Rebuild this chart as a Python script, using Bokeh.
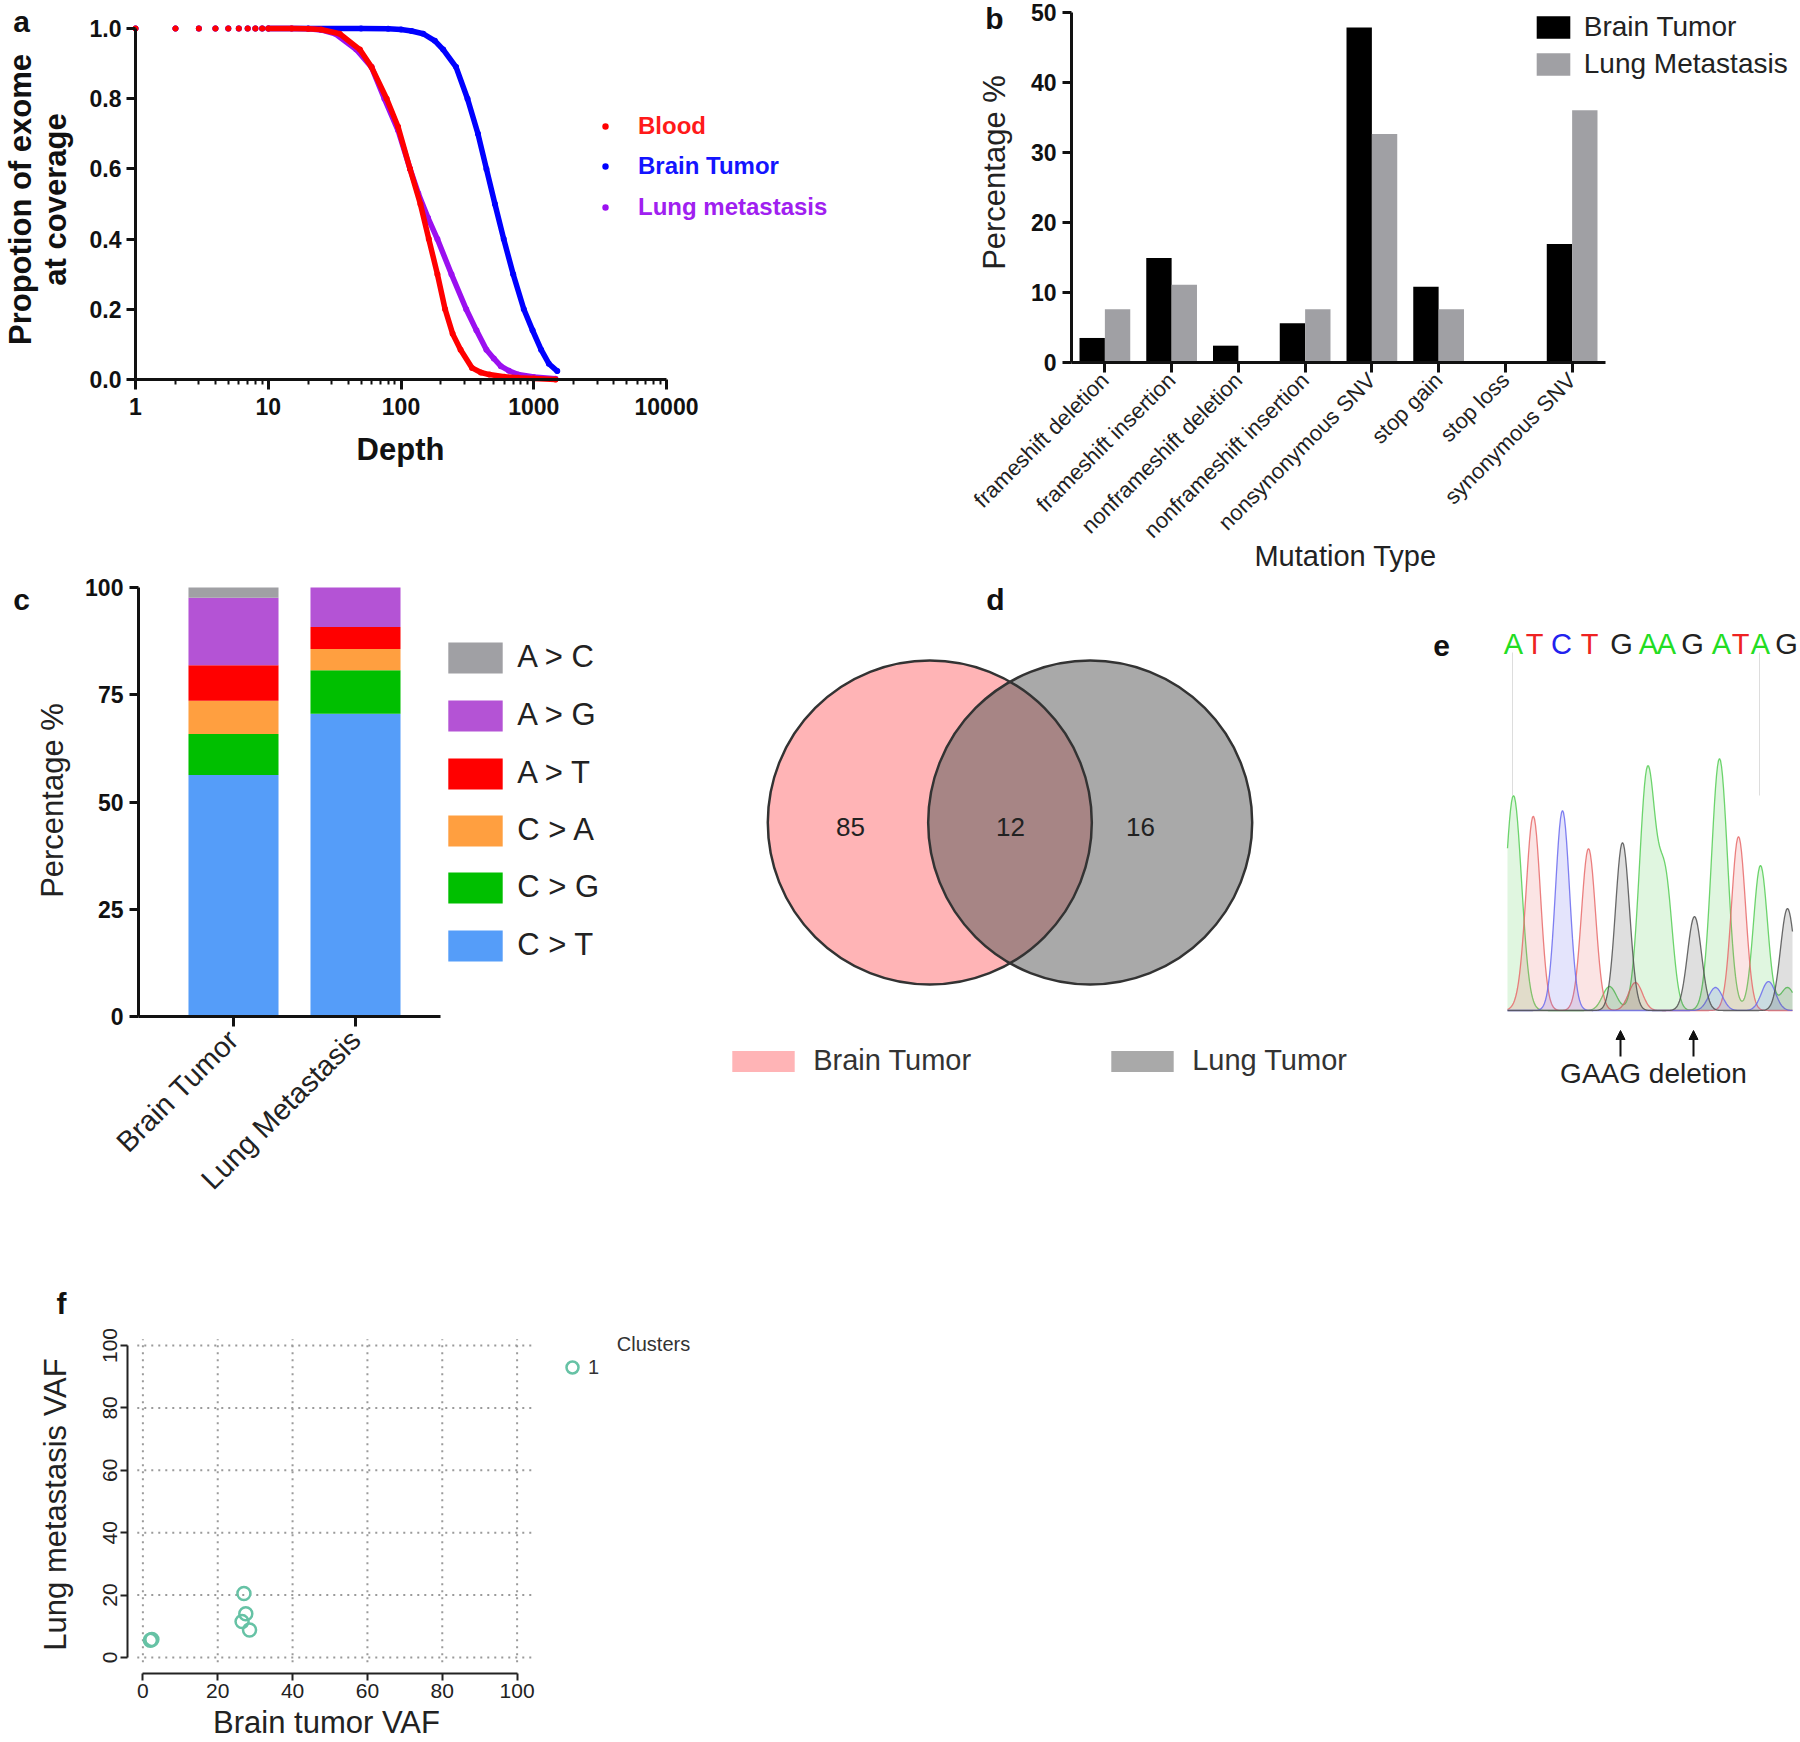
import numpy as np
from bokeh.plotting import figure
from bokeh.layouts import column, row
from bokeh.models import (ColumnDataSource, Label, Legend, LegendItem, FixedTicker,
                          NumeralTickFormatter, Range1d, Arrow, NormalHead)
from bokeh.embed import file_html
from bokeh.resources import INLINE

FONT = "Liberation Sans"
INK = "#111111"

# ---------------- data: panel a (coverage curves) ----------------
blood_depth = [1, 2, 3, 4, 5, 6, 7, 8, 9, 10, 15, 20, 25, 34.5, 49, 60, 78, 95, 117, 140, 162,
               188, 215, 245, 281, 343, 400, 462, 600, 762, 1000, 1458]
blood_prop = [1, 1, 1, 1, 1, 1, 1, 1, 1, 1, 1.0, 0.999, 0.997, 0.985, 0.94, 0.89, 0.80, 0.72,
              0.60, 0.50, 0.40, 0.30, 0.20, 0.13, 0.085, 0.033, 0.02, 0.014, 0.008, 0.005, 0.003, 0.0]
lung_depth = [1, 2, 3, 4, 5, 6, 7, 8, 9, 10, 15, 20, 25, 32, 46, 60, 75, 95, 117, 135, 160,
              188, 240, 310, 370, 440, 500, 565, 650, 762, 1000, 1458]
lung_prop = [1, 1, 1, 1, 1, 1, 1, 1, 1, 1, 1.0, 0.999, 0.996, 0.985, 0.94, 0.89, 0.80, 0.71,
             0.60, 0.53, 0.46, 0.40, 0.30, 0.20, 0.14, 0.085, 0.06, 0.038, 0.025, 0.014, 0.007, 0.002]
brain_depth = [1, 2, 3, 4, 5, 6, 7, 8, 9, 10, 20, 50, 80, 100, 120, 147, 180, 208, 260, 317,
               380, 440, 510, 594, 700, 842, 980, 1136, 1300, 1503]
brain_prop = [1, 1, 1, 1, 1, 1, 1, 1, 1, 1, 1.0, 1.0, 0.999, 0.997, 0.993, 0.985, 0.965, 0.94,
              0.89, 0.80, 0.70, 0.60, 0.50, 0.40, 0.30, 0.20, 0.14, 0.085, 0.045, 0.024]
depth_ticks = [1, 10, 100, 1000, 10000]
prop_ticks = [0, 0.2, 0.4, 0.6, 0.8, 1.0]

# ---------------- data: panel b (mutation types) ----------------
mut_types = ["frameshift deletion", "frameshift insertion", "nonframeshift deletion",
             "nonframeshift insertion", "nonsynonymous SNV", "stop gain", "stop loss",
             "synonymous SNV"]
brain_pct = [3.5, 14.9, 2.4, 5.6, 47.8, 10.8, 0.0, 16.9]
lung_pct = [7.6, 11.1, 0.0, 7.6, 32.6, 7.6, 0.0, 36.0]
pct_ticks_b = [0, 10, 20, 30, 40, 50]

# ---------------- data: panel c (substitution spectrum) ----------------
samples = ["Brain Tumor", "Lung Metastasis"]
subst_labels = ["C > T", "C > G", "C > A", "A > T", "A > G", "A > C"]
ct_pct = [56.3, 70.6]
cg_pct = [9.6, 10.1]
ca_pct = [7.7, 5.0]
at_pct = [8.3, 5.1]
ag_pct = [15.7, 9.2]
ac_pct = [2.4, 0.0]
pct_ticks_c = [0, 25, 50, 75, 100]

# ---------------- data: panel d (Venn) ----------------
venn_sets = ["Brain Tumor", "Lung Tumor"]
only_brain = 85
shared = 12
only_lung = 16

# ---------------- data: panel e (chromatogram) ----------------
seq_bases = list("ATCTGAAGATAG")
seq_pos = [1513, 1534, 1561, 1589, 1621, 1648, 1666, 1692, 1721, 1740, 1760, 1786]
peak_pos = [1513, 1533, 1562, 1588, 1622, 1647, 1665, 1694, 1719, 1738, 1760, 1787,
            1609, 1635, 1715, 1768, 1787, 1523]
peak_height = [215, 190, 200, 162, 168, 240, 125, 94, 252, 174, 145, 102,
               24, 28, 23, 29, 23, 12]
peak_base = ["A", "T", "C", "T", "G", "A", "A", "G", "A", "T", "A", "G",
             "A", "T", "C", "C", "A", "T"]
deletion_pos = [1620, 1693]

# ---------------- data: panel f (VAF scatter) ----------------
brain_vaf = [2.0, 2.4, 27.0, 27.5, 26.5, 28.5]
lung_vaf = [5.5, 5.8, 20.5, 14.0, 11.5, 8.8]
vaf_ticks = [0, 20, 40, 60, 80, 100]


# ---------------- helpers ----------------
class Panel:
    """A figure whose frame is the whole figure; X/Y are page pixels."""

    def __init__(self, X0, Y0, W, H, **kw):
        self.X0, self.Y0, self.W, self.H = X0, Y0, W, H
        p = figure(width=W, height=H, output_backend="svg", toolbar_location=None,
                   min_border_left=0, min_border_right=0, min_border_top=0,
                   min_border_bottom=0, **kw)
        p.outline_line_color = None
        p.background_fill_color = "white"
        p.border_fill_color = "white"
        p.xgrid.visible = False
        p.ygrid.visible = False
        self.p = p

    def sx(self, X):
        return X - self.X0

    def sy(self, Y):
        return self.Y0 + self.H - Y

    def txt(self, text, X, Y, size, bold=False, angle=0, align="center",
            baseline="middle", color=INK):
        self.p.add_layout(Label(x=self.sx(X), y=self.sy(Y), x_units="screen",
                                y_units="screen", text=text, text_font=FONT,
                                text_font_size=f"{size}px",
                                text_font_style="bold" if bold else "normal",
                                text_color=color, angle=angle, angle_units="deg",
                                text_align=align, text_baseline=baseline))

    def legend(self, renderer, label, Xleft, Ycenter, gw, gh, size, standoff,
               bold=False, color=INK):
        gw, gh, standoff = int(round(gw)), int(round(gh)), int(round(standoff))
        h = max(gh, 1.17 * size)
        lg = Legend(items=[LegendItem(label=label, renderers=[renderer])],
                    location=(self.sx(Xleft), self.sy(Ycenter + h / 2)),
                    glyph_width=gw, glyph_height=gh, label_standoff=standoff, padding=0,
                    margin=0, spacing=0, border_line_color=None, background_fill_alpha=0,
                    label_text_font=FONT, label_text_font_size=f"{size}px",
                    label_text_font_style="bold" if bold else "normal",
                    label_text_color=color)
        self.p.add_layout(lg)

    def swatch(self, renderer, label, Xleft, Ycenter, w, h, Xtext, size, color=INK):
        # area legend glyphs are inset by 10% on every side
        gw, gh = int(round(w / 0.8)), int(round(h / 0.8))
        self.legend(renderer, label, Xleft - 0.1 * gw, Ycenter, gw, gh, size,
                    Xtext - (Xleft + w) - 0.1 * gw, color=color)


def style_axis(ax, size, bold=True, lw=3, tick_out=9, standoff=6, color=INK):
    ax.axis_line_width = lw
    ax.axis_line_color = color
    ax.major_tick_line_width = lw
    ax.major_tick_line_color = color
    ax.major_tick_out = tick_out
    ax.major_tick_in = 0
    ax.minor_tick_line_color = None
    ax.major_label_text_font = FONT
    ax.major_label_text_font_size = f"{size}px"
    ax.major_label_text_font_style = "bold" if bold else "normal"
    ax.major_label_text_color = color
    ax.major_label_standoff = standoff


ROW1 = 573
ROW2 = 689
ROW3 = 480

# ================= panel a =================
A = Panel(0, 0, 880, ROW1, x_axis_type="log",
          x_range=Range1d(10 ** -1.01695, 10 ** 5.61205),
          y_range=Range1d(-(ROW1 - 379) / 351, 1 + 28 / 351))
pa = A.p
series_a = [
    (brain_depth, brain_prop, "#0000FF", "Brain Tumor", "#1414FF", 166),
    (lung_depth, lung_prop, "#9B10F0", "Lung metastasis", "#A020F0", 207),
    (blood_depth, blood_prop, "#FF0000", "Blood", "#FF1A1A", 126),
]
for dep, prop, col, name, tcol, cy in series_a:
    pa.line(dep[9:], prop[9:], line_color=col, line_width=5.5, line_cap="round",
            line_join="round")
    sc = pa.scatter(dep, prop, size=6, marker="circle", fill_color=col, line_color=None)
    A.legend(sc, name, 597, cy, 16, 40, 24, 25, bold=True, color=tcol)

style_axis(pa.xaxis[0], 23, tick_out=10, standoff=8)
style_axis(pa.yaxis[0], 23, tick_out=9, standoff=5)
minor = [m * 10 ** e for e in range(0, 4) for m in range(2, 10)]
pa.xaxis.ticker = FixedTicker(ticks=depth_ticks, minor_ticks=minor)
pa.xaxis.minor_tick_line_color = INK
pa.xaxis.minor_tick_line_width = 2
pa.xaxis.minor_tick_out = 5
pa.xaxis.minor_tick_in = 0
pa.xaxis.formatter = NumeralTickFormatter(format="0")
pa.xaxis.fixed_location = 0
pa.xaxis.bounds = (1, 10000)
pa.yaxis.ticker = FixedTicker(ticks=prop_ticks)
pa.yaxis.formatter = NumeralTickFormatter(format="0.0")
pa.yaxis.fixed_location = 1
pa.yaxis.bounds = (0, 1)
A.txt("a", 21, 21, 30, bold=True)
A.txt("Depth", 400, 449, 31, bold=True)
A.txt("Propotion of exome", 20, 199, 31, bold=True, angle=90)
A.txt("at coverage", 55, 199, 31, bold=True, angle=90)

# ================= panel b =================
B = Panel(880, 0, 920, ROW1, x_range=Range1d(-2.8614, 10.9213),
          y_range=Range1d(-(ROW1 - 362) / 7.01, 50 + 11.5 / 7.01))
pb = B.p
idx_b = list(range(len(mut_types)))
src_b = ColumnDataSource(dict(xb=[i + 0.5 - 0.19 for i in idx_b],
                              xl=[i + 0.5 + 0.19 for i in idx_b],
                              brain=brain_pct, lung=lung_pct))
rb1 = pb.vbar(x="xb", top="brain", width=0.38, source=src_b, fill_color="#000000",
              line_color=None)
rb2 = pb.vbar(x="xl", top="lung", width=0.38, source=src_b, fill_color="#A0A0A4",
              line_color=None)
style_axis(pb.yaxis[0], 23, tick_out=9, standoff=6)
pb.yaxis.ticker = FixedTicker(ticks=pct_ticks_b)
pb.yaxis.fixed_location = 0
pb.yaxis.bounds = (0, 50)
style_axis(pb.xaxis[0], 22, bold=False, tick_out=10, standoff=4, color="#222222")
pb.xaxis.axis_line_color = INK
pb.xaxis.major_tick_line_color = INK
pb.xaxis.ticker = FixedTicker(ticks=[i + 0.5 for i in idx_b])
pb.xaxis.major_label_overrides = {i + 0.5: t for i, t in zip(idx_b, mut_types)}
pb.xaxis.major_label_orientation = np.pi / 4
pb.xaxis.fixed_location = 0
pb.xaxis.bounds = (0, len(mut_types))
B.txt("b", 994, 18, 30, bold=True)
B.txt("Percentage %", 994, 172, 31, angle=90, color="#222222")
B.txt("Mutation Type", 1345, 555, 29, color="#222222")
B.swatch(rb1, "Brain Tumor", 1536, 26.5, 34, 22, 1584, 28, color="#222222")
B.swatch(rb2, "Lung Metastasis", 1536, 63.5, 34, 22, 1584, 28, color="#222222")

# ================= panel c =================
C = Panel(0, ROW1, 620, ROW2, x_range=Range1d(-1.9098, 3.1721),
          y_range=Range1d(-(ROW1 + ROW2 - 1016) / 4.30, 100 + (587 - ROW1) / 4.30))
pc = C.p
keys = ["ct", "cg", "ca", "at", "ag", "ac"]
cols_c = ["#559DF9", "#00BF00", "#FF9F40", "#FF0000", "#B453D5", "#A0A0A4"]
idx_c = list(range(len(samples)))
src_c = ColumnDataSource(dict(xs=idx_c, ct=ct_pct, cg=cg_pct, ca=ca_pct, at=at_pct,
                              ag=ag_pct, ac=ac_pct))
rc = pc.vbar_stack(keys, x="xs", width=0.738, color=cols_c, line_color=None, source=src_c)
style_axis(pc.yaxis[0], 23, tick_out=9, standoff=6)
pc.yaxis.ticker = FixedTicker(ticks=pct_ticks_c)
pc.yaxis.fixed_location = -0.779
pc.yaxis.bounds = (0, 100)
style_axis(pc.xaxis[0], 29, bold=False, tick_out=10, standoff=8, color="#222222")
pc.xaxis.axis_line_color = INK
pc.xaxis.major_tick_line_color = INK
pc.xaxis.ticker = FixedTicker(ticks=idx_c)
pc.xaxis.major_label_overrides = {i: s for i, s in zip(idx_c, samples)}
pc.xaxis.major_label_orientation = np.pi / 4
pc.xaxis.fixed_location = 0
pc.xaxis.bounds = (-0.779, 1.697)
C.txt("c", 21, 599, 30, bold=True)
C.txt("Percentage %", 52, 800, 31, angle=90, color="#222222")
centers_c = [945, 887, 830, 773, 715, 657]
for r, lab, cy in zip(rc, subst_labels, centers_c):
    C.swatch(r, lab, 448, cy, 54, 31, 517, 31, color="#222222")

# ================= panel d =================
R = 1.0
D = 0.99
VY = 822 - ROW1
Dp = Panel(620, ROW1, 792, ROW2, x_range=Range1d(-2.4043, 2.4846),
           y_range=Range1d(-(ROW2 - VY) / 162, VY / 162))
pd_ = Dp.p
pd_.axis.visible = False
pd_.circle([-D / 2], [0], radius=R, fill_color="#FFB4B6", line_color=None)
pd_.circle([D / 2], [0], radius=R, fill_color="#A9A9A9", line_color=None)
alpha = np.arccos((D / 2) / R)
t1 = np.linspace(-alpha, alpha, 80)
t2 = np.linspace(np.pi - alpha, np.pi + alpha, 80)
lx = np.r_[-D / 2 + R * np.cos(t1), D / 2 + R * np.cos(t2)]
ly = np.r_[R * np.sin(t1), R * np.sin(t2)]
pd_.patch(lx, ly, fill_color="#A78585", line_color=None)
pd_.circle([-D / 2, D / 2], [0, 0], radius=R, fill_color=None, line_color="#333333",
           line_width=2.5)
for val, XX in zip([only_brain, shared, only_lung], [850, 1010, 1140]):
    Dp.txt(str(val), XX, 826, 26, color="#222222")
Dp.txt("d", 995, 599, 30, bold=True)
# zero-area proxies that only carry the legend swatches
lg_pink = pd_.quad(left=[0], right=[0], top=[0], bottom=[0], fill_color="#FFB4B6",
                   line_color=None)
lg_grey = pd_.quad(left=[0], right=[0], top=[0], bottom=[0], fill_color="#A9A9A9",
                   line_color=None)
Dp.swatch(lg_pink, venn_sets[0], 732, 1060.5, 62, 21, 813, 29, color="#333333")
Dp.swatch(lg_grey, venn_sets[1], 1111, 1060.5, 62, 21, 1192, 29, color="#333333")

# ================= panel e =================
E = Panel(1412, ROW1, 388, ROW2, x_range=Range1d(1412, 1800),
          y_range=Range1d(1010 - (ROW1 + ROW2), 1010 - ROW1))
pe = E.p
pe.axis.visible = False
pe.segment(x0=[1512, 1759], y0=[358, 358], x1=[1512, 1759], y1=[215, 215],
           line_color="#DDDDDD", line_width=1)
xs = np.arange(1507, 1793, 1.0)
chan = {"A": "#55CC55", "T": "#E86A6A", "C": "#6A6AEE", "G": "#505050"}
for b in ["A", "T", "C", "G"]:
    ys = np.zeros_like(xs)
    for pos, h, pb_ in zip(peak_pos, peak_height, peak_base):
        if pb_ == b:
            s = 8.0 if h > 200 else 7.0
            ys += h * np.exp(-0.5 * ((xs - pos) / s) ** 2)
    pe.patch(np.r_[xs, xs[::-1]], np.r_[ys, np.zeros_like(xs)], fill_color=chan[b],
             fill_alpha=0.18, line_color=None)
    pe.line(xs, ys, line_color=chan[b], line_width=1.3, line_alpha=0.85)
letter_col = {"A": "#22DD22", "T": "#EE2222", "C": "#2222EE", "G": "#222222"}
for ch, XX in zip(seq_bases, seq_pos):
    E.txt(ch, XX, 643, 29, color=letter_col[ch])
arr_src = ColumnDataSource(dict(x=deletion_pos, y0=[-46, -46], y1=[-20, -20]))
pe.add_layout(Arrow(end=NormalHead(size=9, fill_color=INK, line_color=INK),
                    x_start="x", y_start="y0", x_end="x", y_end="y1", source=arr_src,
                    line_width=2, line_color=INK))
E.txt("GAAG deletion", 1653, 1073, 28, color="#222222")
E.txt("e", 1441, 645, 30, bold=True)

# ================= panel f =================
Y0F = ROW1 + ROW2
F = Panel(0, Y0F, 760, ROW3, x_range=Range1d(-38.05, 165.04),
          y_range=Range1d(-(Y0F + ROW3 - 1657) / 3.12, 100 + (1345 - Y0F) / 3.12))
pf = F.p
gcol = "#9A9A9A"
pf.segment(x0=vaf_ticks, y0=[-1.5] * len(vaf_ticks), x1=vaf_ticks,
           y1=[102] * len(vaf_ticks), line_color=gcol, line_dash="2 5", line_width=2)
pf.segment(x0=[-1.5] * len(vaf_ticks), y0=vaf_ticks, x1=[105] * len(vaf_ticks),
           y1=vaf_ticks, line_color=gcol, line_dash="2 5", line_width=2)
sf = pf.scatter(brain_vaf, lung_vaf, size=13, marker="circle", fill_color=None,
                line_color="#66C2A5", line_width=2.5)
for ax in (pf.xaxis[0], pf.yaxis[0]):
    style_axis(ax, 21, bold=False, lw=2, tick_out=7, standoff=4, color="#222222")
    ax.ticker = FixedTicker(ticks=vaf_ticks)
    ax.bounds = (0, 100)
pf.xaxis.fixed_location = -5.0
pf.yaxis.fixed_location = -4.2
pf.yaxis.major_label_orientation = "vertical"
pf.yaxis.major_label_standoff = 3
F.txt("f", 61, 1303, 30, bold=True)
F.txt("Lung metastasis VAF", 55, 1504, 31, angle=90, color="#222222")
F.txt("Brain tumor VAF", 326, 1722, 31, color="#222222")
F.txt("Clusters", 653, 1343, 20, color="#333333")
F.legend(sf, "1", 557, 1367, 30, 30, 20, 1, color="#333333")

layout = column(row(pa, pb), row(pc, pd_, pe), row(pf))
open("out.html", "w").write(file_html(layout, INLINE))
